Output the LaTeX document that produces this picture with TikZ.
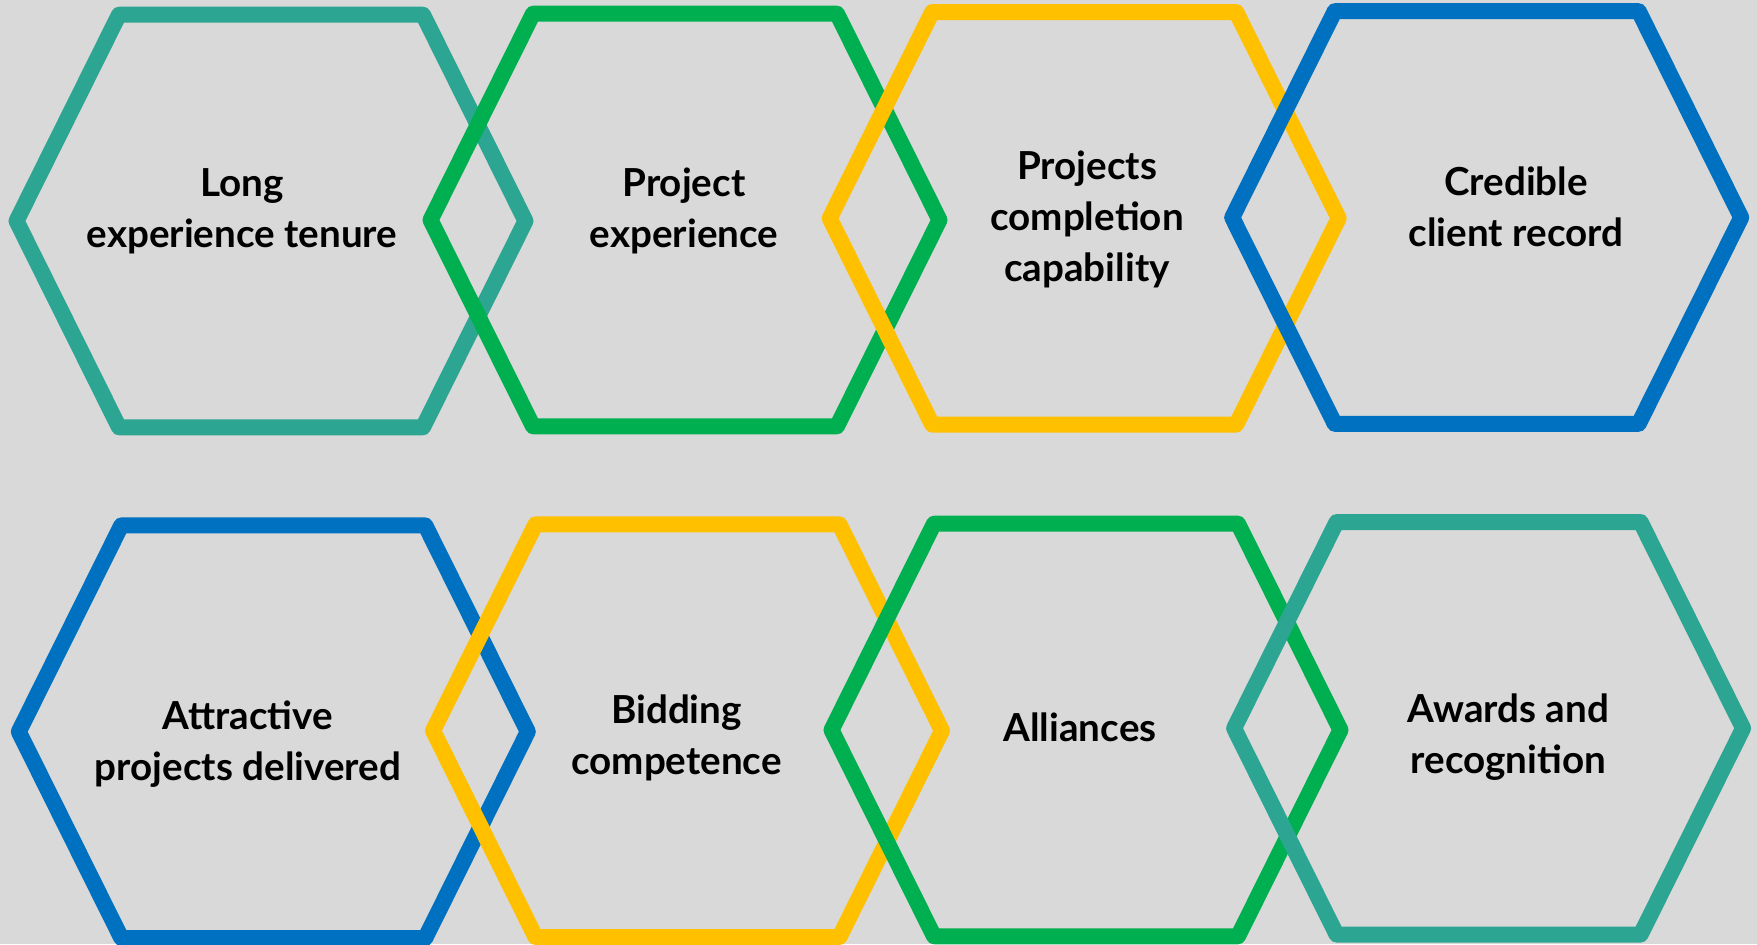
\documentclass[tikz,border=0pt]{standalone}
\usepackage{fontspec}
\setmainfont{Lato}
\definecolor{bgc}{HTML}{D9D9D9}
\definecolor{tealc}{HTML}{2CA692}
\definecolor{greenc}{HTML}{00B050}
\definecolor{yellowc}{HTML}{FFC000}
\definecolor{bluec}{HTML}{0070C0}
\tikzset{
  hexa/.pic={\draw[pic actions] (-254.5,0) -- (-152,-206.3) -- (152,-206.3) -- (254.5,0) -- (152,206.3) -- (-152,206.3) -- cycle;},
  hexline/.style={line width=8pt, line join=round},
  lbl/.style={anchor=base, align=center, inner sep=0pt, text=black,
    font=\fontsize{19.3}{25.5}\selectfont\bfseries}
}
\begin{document}
\begin{tikzpicture}[x=0.5pt,y=-0.5pt]
\useasboundingbox (0,0) rectangle (1757,944);
\clip (0,0) rectangle (1757,944);
\fill[bgc] (0,0) rectangle (1757,944);
% centres
\coordinate (h1) at (271,221);
\coordinate (h2) at (685,220);
\coordinate (h3) at (1084.2,218.3);
\coordinate (h4) at (1486.7,217.5);
\coordinate (h5) at (273.3,731.7);
\coordinate (h6) at (687.5,730.7);
\coordinate (h7) at (1086,730);
\coordinate (h8) at (1488.6,728.3);
% hexagons
\pic[draw=tealc, hexline] at (h1) {hexa};
\pic[draw=greenc, hexline] at (h2) {hexa};
\pic[draw=yellowc, hexline] at (h3) {hexa};
\pic[draw=bluec, hexline] at (h4) {hexa};
\pic[draw=bluec, hexline] at (h5) {hexa};
\pic[draw=yellowc, hexline] at (h6) {hexa};
\pic[draw=greenc, hexline] at (h7) {hexa};
\pic[draw=tealc, hexline] at (h8) {hexa};
% labels (anchor = baseline of last line)
\node[lbl] (t1) at (242,247.3) {Long\\experience tenure};
\node[lbl] (t2) at (684,247.3) {Project\\experience};
\node[lbl] (t3) at (1087,281.7) {Projects\\completion\\capability};
\node[lbl] (t4) at (1516,246.7) {Credible\\client record};
\node[lbl] (t5) at (248,780.7) {Attractive\\projects delivered};
\node[lbl] (t6) at (676.5,774.7) {Bidding\\competence};
\node[lbl] (t7) at (1080,741.3) {Alliances};
\node[lbl] (t8) at (1508.5,773.3) {Awards and\\recognition};
\end{tikzpicture}
\end{document}
